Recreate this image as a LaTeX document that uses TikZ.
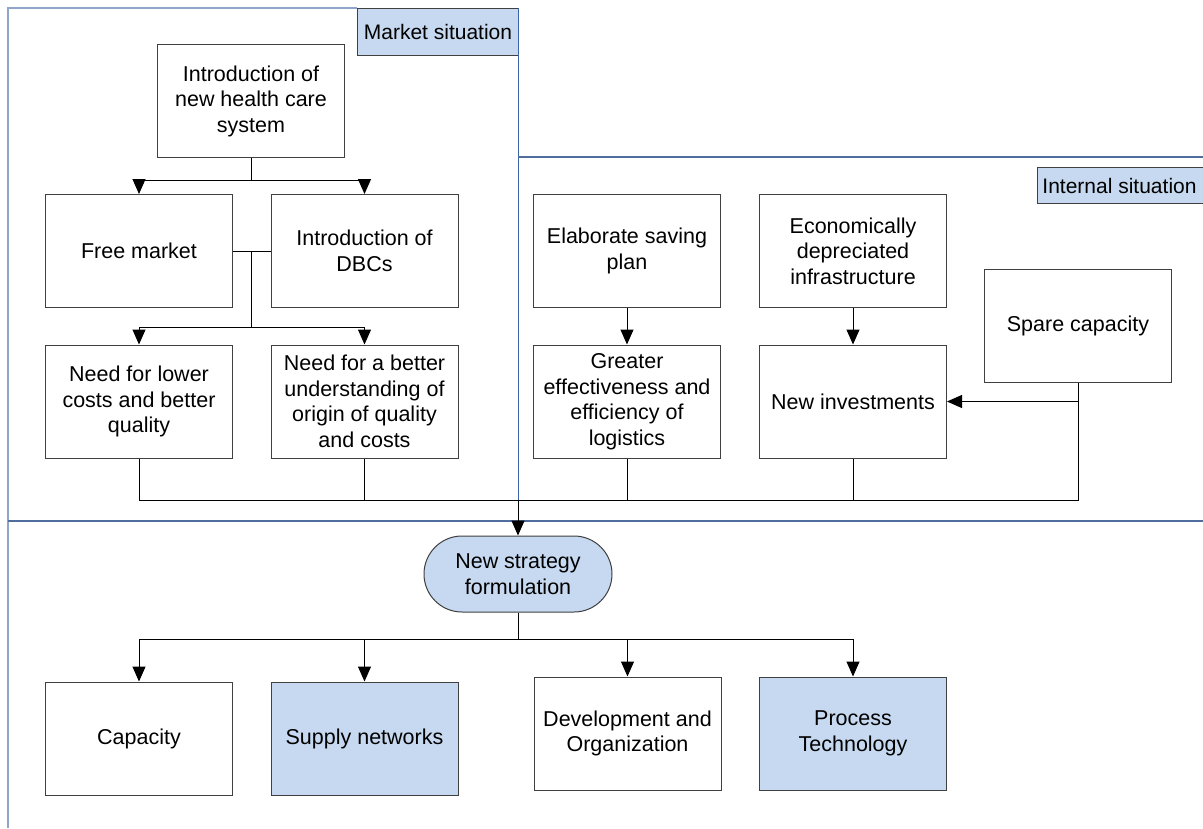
\documentclass[tikz,border=0pt]{standalone}
\usepackage{fontspec}
\setmainfont{Liberation Sans}
\usetikzlibrary{arrows.meta,shapes.misc}
\definecolor{boxblue}{HTML}{C6D9F0}
\definecolor{frameA}{HTML}{8FA5C9}
\definecolor{frameB}{HTML}{4F6E9E}
\definecolor{frameC}{HTML}{3B64A8}
\definecolor{edge}{HTML}{404040}
\tikzset{
  box/.style={draw=edge, line width=1pt, fill=white, minimum width=187pt, minimum height=113pt,
    align=center, inner sep=0pt, font=\fontsize{21.5}{25.5}\selectfont},
  bluebox/.style={box, fill=boxblue},
  lbl/.style={draw=edge, line width=1pt, fill=boxblue, inner sep=0pt, font=\fontsize{21}{25.5}\selectfont},
  arr/.style={line width=1pt, -{Triangle[length=15pt,width=13pt]}},
  ln/.style={line width=1pt},
}
\begin{document}
\begin{tikzpicture}[x=1pt,y=-1pt]
\useasboundingbox (0,0) rectangle (1203,828);
\fill[white] (0,0) rectangle (1203,828);

% frame
\draw[frameA, line width=1.5pt] (8,828) -- (8,8) -- (357,8);
\node[lbl, minimum width=161pt, minimum height=47pt, anchor=north west] (market) at (357,8) {Market situation};
\draw[frameC, line width=1pt] (518,8) -- (518,521);
\draw[frameB, line width=1.3pt] (518,157) -- (1203,157);
\draw[frameB, line width=1.3pt] (8,521) -- (1203,521);
\node[lbl, minimum width=170pt, minimum height=36pt, anchor=north west] (internal) at (1037,167) {\hspace*{-6pt}Internal situation};

% nodes
\node[box] (intro) at (251,101) {Introduction of\\new health care\\system};
\node[box] (free) at (139,251) {Free market};
\node[box] (dbc) at (364.5,251) {Introduction of\\DBCs};
\node[box] (need1) at (139,401.5) {Need for lower\\costs and better\\quality};
\node[box] (need2) at (364.5,401.5) {Need for a better\\understanding of\\origin of quality\\and costs};
\node[box] (save) at (627,251) {Elaborate saving\\plan};
\node[box] (econ) at (853,251) {Economically\\depreciated\\infrastructure};
\node[box] (spare) at (1078,326) {Spare capacity};
\node[box] (logi) at (627,401.5) {Greater\\effectiveness and\\efficiency of\\logistics};
\node[box] (invest) at (853,401.5) {New investments};
\node[box, fill=boxblue, rounded rectangle, minimum width=188pt, minimum height=76pt] (strat) at (518,574) {New strategy\\formulation};
\node[box] (cap) at (139,738.5) {Capacity};
\node[bluebox] (supply) at (364.5,738.5) {Supply networks};
\node[box] (dev) at (627.5,733.5) {Development and\\Organization};
\node[bluebox] (proc) at (853,733.5) {Process\\Technology};

% junctions
\coordinate (j1) at (251,180);
\coordinate (j2) at (251,327);
\coordinate (bus) at (518,500);
\coordinate (j3) at (518,639);

% connectors
\draw[ln] (intro.south) -- (j1);
\draw[arr] (j1) -| (free.north);
\draw[arr] (j1) -| (dbc.north);
\draw[ln] (free.east) -- (dbc.west);
\draw[ln] (free.east -| j2) -- (j2);
\draw[arr] (j2) -| (need1.north);
\draw[arr] (j2) -| (need2.north);
\draw[arr] (save.south) -- (logi.north);
\draw[arr] (econ.south) -- (invest.north);
\draw[arr] (spare.south) |- (invest.east);
\draw[ln] (need1.south) |- (bus);
\draw[ln] (need2.south) |- (bus);
\draw[ln] (logi.south) |- (bus);
\draw[ln] (invest.south) |- (bus);
\draw[ln] (spare.south) |- (bus);
\draw[arr] (bus) -- (strat.north);
\draw[ln] (strat.south) -- (j3);
\draw[arr] (j3) -| (cap.north);
\draw[arr] (j3) -| (supply.north);
\draw[arr] (j3) -| (dev.north);
\draw[arr] (j3) -| (proc.north);
\end{tikzpicture}
\end{document}
